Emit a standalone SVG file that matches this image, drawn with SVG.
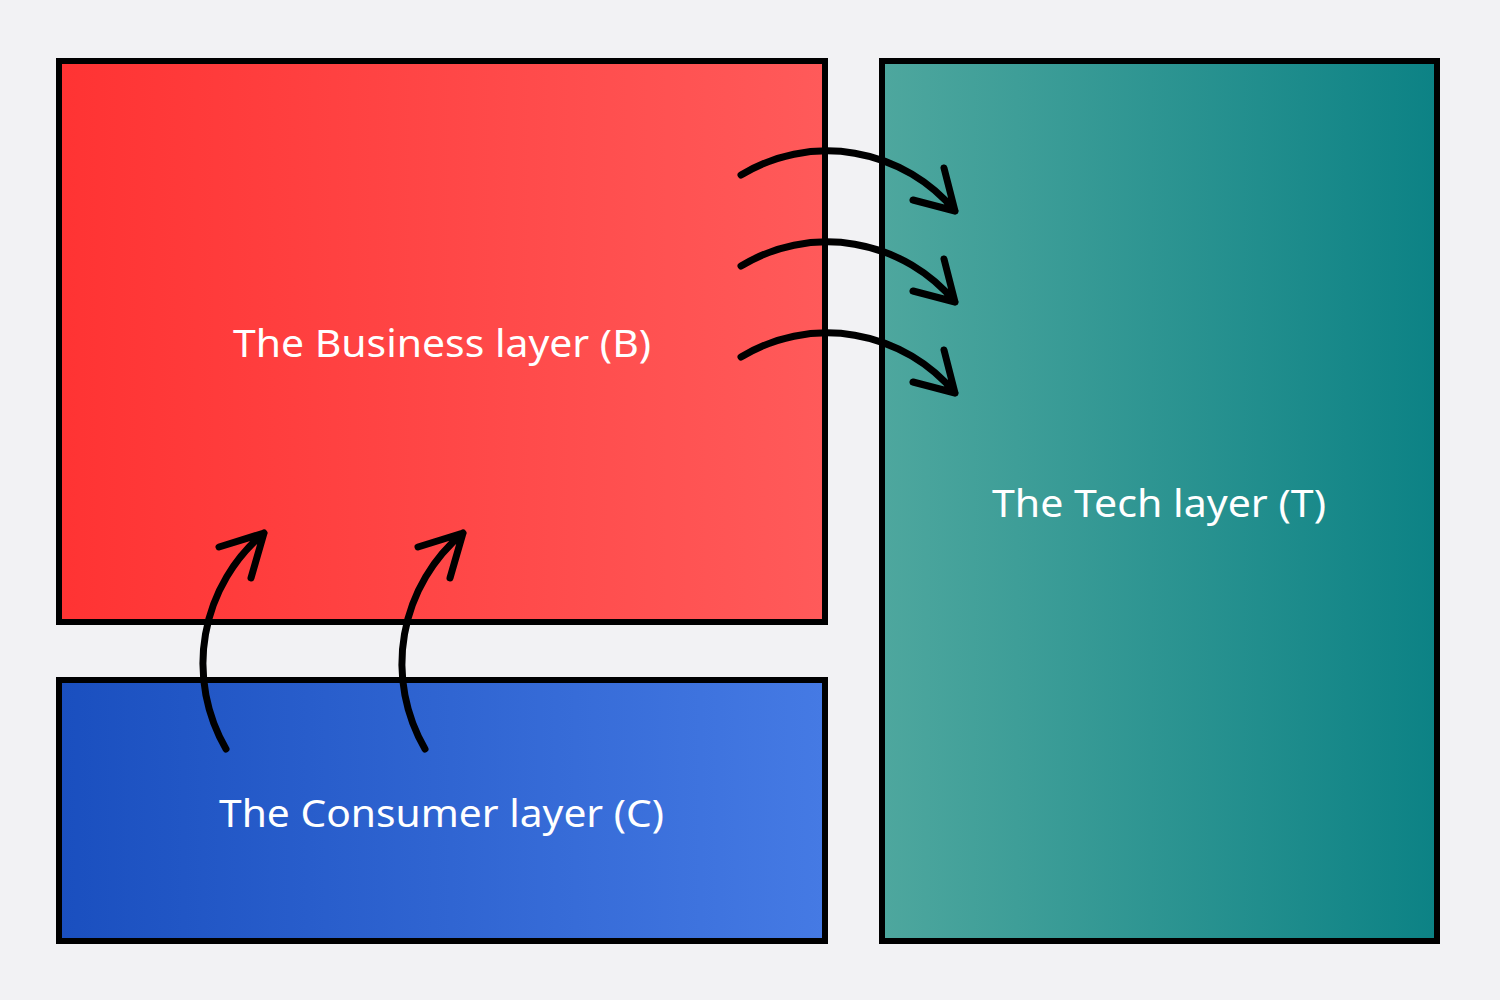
<svg xmlns="http://www.w3.org/2000/svg" width="1500" height="1000" viewBox="0 0 1500 1000">
  <defs>
    <linearGradient id="gRed" x1="0" y1="0" x2="1" y2="0">
      <stop offset="0" stop-color="#FF3333"/>
      <stop offset="1" stop-color="#FF5A5A"/>
    </linearGradient>
    <linearGradient id="gBlue" x1="0" y1="0" x2="1" y2="0">
      <stop offset="0" stop-color="#1A4FBF"/>
      <stop offset="1" stop-color="#457AE4"/>
    </linearGradient>
    <linearGradient id="gTeal" x1="0" y1="0" x2="1" y2="0">
      <stop offset="0" stop-color="#4EA79E"/>
      <stop offset="1" stop-color="#0C8285"/>
    </linearGradient>
  </defs>
  <style>
    .box { stroke: #000; stroke-width: 6; }
    .lbl { font-family: "Noto Sans", "Open Sans", sans-serif; font-size: 39px; fill: #fff; text-anchor: middle; }
    .arc { fill: none; stroke: #000; stroke-width: 7; stroke-linecap: round; stroke-linejoin: round; }
  </style>
  <rect x="0" y="0" width="1500" height="1000" fill="#F2F2F4"/>
  <g id="business">
    <rect class="box" x="59" y="61" width="766" height="561" fill="url(#gRed)"/>
    <text class="lbl" x="442" y="357" textLength="418" lengthAdjust="spacingAndGlyphs">The Business layer (B)</text>
  </g>
  <g id="consumer">
    <rect class="box" x="59" y="680" width="766" height="261" fill="url(#gBlue)"/>
    <text class="lbl" x="441.5" y="827" textLength="445" lengthAdjust="spacingAndGlyphs">The Consumer layer (C)</text>
  </g>
  <g id="tech">
    <rect class="box" x="882" y="61" width="555" height="880" fill="url(#gTeal)"/>
    <text class="lbl" x="1159" y="517" textLength="334" lengthAdjust="spacingAndGlyphs">The Tech layer (T)</text>
  </g>
  <g id="connectors">
    <path class="arc" d="M741,175 A166,166 0 0 1 955,211 M944,168 L955,211 L913,200"/>
    <path class="arc" d="M741,266 A166,166 0 0 1 955,302 M944,259 L955,302 L913,291"/>
    <path class="arc" d="M741,357 A166,166 0 0 1 955,393 M944,350 L955,393 L913,382"/>
    <path class="arc" d="M226,749 A170,170 0 0 1 264,533 M219,547 L264,533 L251,578"/>
    <path class="arc" d="M425,749 A170,170 0 0 1 463,533 M418,547 L463,533 L450,578"/>
  </g>
</svg>
